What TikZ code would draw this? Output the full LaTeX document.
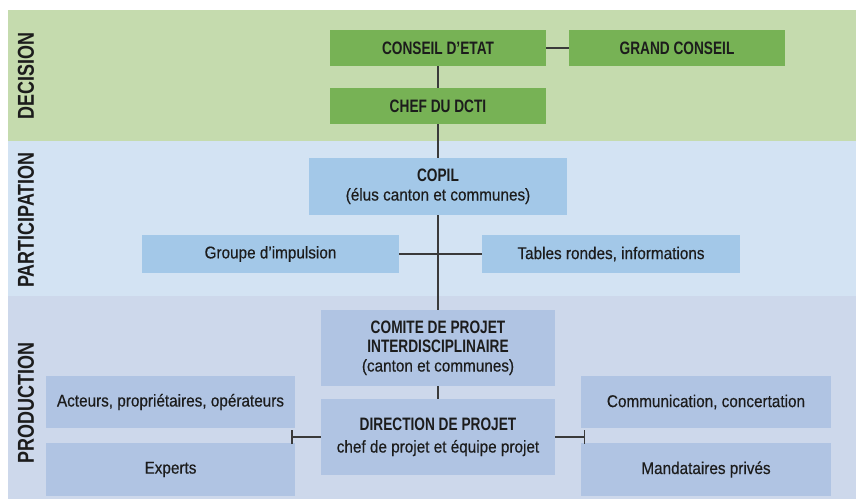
\documentclass[tikz,border=0pt]{standalone}
\usepackage{fontspec}
\setmainfont{Liberation Sans}[FakeStretch=0.9, FakeBold=0.4]
\newfontfamily\headfont{Liberation Sans}[FakeStretch=0.76]
\newfontfamily\bandfont{Liberation Sans}[FakeStretch=0.78]
\usetikzlibrary{arrows.meta}

\definecolor{decband}{HTML}{C5DBAE}
\definecolor{decbox}{HTML}{77B255}
\definecolor{parband}{HTML}{D3E3F3}
\definecolor{parbox}{HTML}{A3C8E8}
\definecolor{proband}{HTML}{CDD8EB}
\definecolor{probox}{HTML}{B0C4E3}
\definecolor{linkgray}{HTML}{3A3A3A}
\definecolor{inkgray}{HTML}{1C1C1C}

\newcommand{\hd}[1]{{\headfont\bfseries\fontsize{18}{19}\selectfont #1}}

\begin{document}
\begin{tikzpicture}[x=1pt,y=-1pt,
    box/.style={inner sep=0pt, align=center, text=inkgray,
        font=\fontsize{17}{19}\selectfont},
    greenbox/.style={box, fill=decbox, minimum width=216pt, minimum height=36pt},
    bluebox/.style={box, fill=parbox, minimum width=258pt},
    prodbox/.style={box, fill=probox},
    bandlabel/.style={rotate=90, text=inkgray,
        font=\bandfont\bfseries\fontsize{23}{23}\selectfont},
    link/.style={draw=linkgray, line width=1.5pt}]
    \useasboundingbox (0,0) rectangle (856,499);

    % Bands
    \fill[decband] (8,10) rectangle (856,141);
    \fill[parband] (8,141) rectangle (856,296);
    \fill[proband] (8,296) rectangle (856,499);
    \node[bandlabel] (decision) at (26,76) {DECISION};
    \node[bandlabel] (participation) at (26,220) {PARTICIPATION};
    \node[bandlabel] (production) at (26,403) {PRODUCTION};

    % Decision
    \node[greenbox] (conseil) at (438,48) {\hd{CONSEIL D’ETAT}};
    \node[greenbox] (grand) at (677,48) {\hd{GRAND CONSEIL}};
    \node[greenbox] (chef) at (438,106) {\hd{CHEF DU DCTI}};

    % Participation
    \node[bluebox, minimum height=57pt] (copil) at (438,186.5)
        {\hd{COPIL}\\(élus canton et communes)};
    \node[bluebox, minimum width=257pt, minimum height=38pt] (groupe) at (270.5,254)
        {Groupe d’impulsion};
    \node[bluebox, minimum height=38pt] (tables) at (611,254)
        {Tables rondes, informations};

    % Production
    \node[prodbox, minimum width=234pt, minimum height=76pt] (comite) at (438,348)
        {\hd{COMITE DE PROJET}\\\hd{INTERDISCIPLINAIRE}\\(canton et communes)};
    \node[prodbox, minimum width=234pt, minimum height=76pt] (direction) at (438,437)
        {\hd{DIRECTION DE PROJET}\\[3pt]chef de projet et équipe projet};
    \node[prodbox, minimum width=249pt, minimum height=52pt] (acteurs) at (170.5,402)
        {Acteurs, propriétaires, opérateurs};
    \node[prodbox, minimum width=249pt, minimum height=53pt] (experts) at (170.5,469.5)
        {Experts};
    \node[prodbox, minimum width=250pt, minimum height=52pt] (communication) at (706,402)
        {Communication, concertation};
    \node[prodbox, minimum width=250pt, minimum height=53pt] (mandataires) at (706,469.5)
        {Mandataires privés};

    % Links
    \draw[link] (conseil) -- (grand);
    \draw[link] (conseil) -- (chef);
    \draw[link] (chef) -- (copil);
    \draw[link] (copil) -- (comite);
    \draw[link] (groupe) -- (tables);
    \draw[link] (comite) -- (direction);

    % Bar ends
    \coordinate (leftbar) at (291,437);
    \coordinate (rightbar) at (585,437);
    \draw[link,-{Bar[width=14pt]}] (direction.west) -- (leftbar);
    \draw[link,-{Bar[width=14pt]}] (direction.east) -- (rightbar);
\end{tikzpicture}
\end{document}
